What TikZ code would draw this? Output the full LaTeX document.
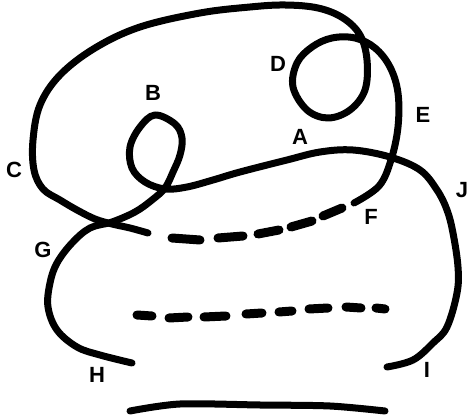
\documentclass[tikz,border=0pt]{standalone}
\usepackage{fontspec}
\setmainfont{Liberation Sans}
\usepackage{tikz}
\tikzset{
  strand/.style={line width=7pt,line cap=round,line join=round},
  dashpiece/.style={line width=9pt,line cap=round},
  lbl/.style={font=\fontsize{22}{22}\selectfont\bfseries,inner sep=0pt}
}
\begin{document}
\begin{tikzpicture}[x=1pt,y=-1pt]
\path[use as bounding box] (0,0) rectangle (471,419);
\draw[strand] plot[smooth,tension=0.6] coordinates {(148,233) (130,228) (112,224) (95,219) (77,210) (60,200) (43,189) (34,170) (33,140) (40,105) (60,75) (95,48) (140,27) (200,13) (250,7) (285,5) (318,8) (343,18) (360,35) (367,60) (365,90) (350,110) (328,118) (307,110) (293,87) (297,63) (312,47) (332,38) (355,38) (375,48) (390,67) (398,93) (398,127) (391,160) (379,186) (354,203)};
\draw[strand] plot[smooth,tension=0.6] coordinates {(132,363) (100,355) (77,347) (57,330) (48,307) (50,283) (57,263) (72,243) (90,228) (112,222) (135,212) (152,200) (165,188) (173,172) (180,155) (182,138) (175,124) (155,115) (140,127) (130,147) (132,168) (145,182) (165,189) (187,187) (213,180) (240,172) (287,160) (320,152) (353,150) (390,157) (420,170) (437,190) (447,210) (453,233) (458,267) (457,293) (447,327) (433,343) (413,360) (387,367)};
\draw[dashpiece] (172,238) -- (200,240);
\draw[dashpiece] (218,238) -- (243,236);
\draw[dashpiece] (258,234) -- (279,230);
\draw[dashpiece] (291,227) -- (312,221);
\draw[dashpiece] (323,216) -- (342,208);
\draw[dashpiece] (137,315) -- (152,316);
\draw[dashpiece] (169,318) -- (188,317);
\draw[dashpiece] (204,317) -- (226,316);
\draw[dashpiece] (246,314) -- (262,313);
\draw[dashpiece] (279,312) -- (292,311);
\draw[dashpiece] (309,309) -- (328,308);
\draw[dashpiece] (346,307) -- (361,308);
\draw[dashpiece] (376,308) -- (385,309);
\draw[strand] plot[smooth] coordinates {(130,411) (180,404) (260,405) (330,406) (385,411)};
\node[lbl] (labA) at (300,137) {A};
\node[lbl] (labB) at (153,93) {B};
\node[lbl] (labC) at (14,170) {C};
\node[lbl] (labD) at (278,64) {D};
\node[lbl] (labE) at (423,115) {E};
\node[lbl] (labF) at (371,217) {F};
\node[lbl] (labG) at (43,250) {G};
\node[lbl] (labH) at (97,375) {H};
\node[lbl] (labI) at (427,370) {I};
\node[lbl] (labJ) at (462,190) {J};
\end{tikzpicture}
\end{document}
